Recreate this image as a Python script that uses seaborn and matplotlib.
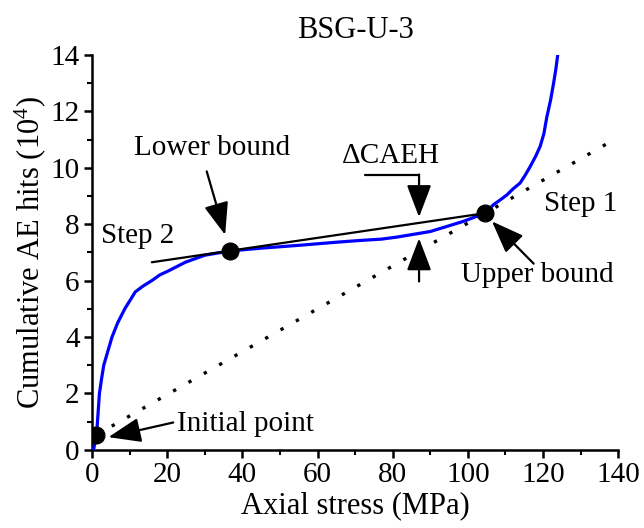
import matplotlib
matplotlib.use("Agg")
import matplotlib.pyplot as plt
import seaborn as sns
import pandas as pd
import numpy as np

# Cumulative AE hits (x 10^4) against axial stress (MPa) for specimen BSG-U-3
stress = [0.4, 0.8, 1.2, 1.95, 2.5, 3.1, 4.2, 5.3, 6.8, 8.7, 11.5, 13.5,
          15.9, 18.0, 20.4, 24.8, 30.0, 36.7, 45.0, 55.0, 65.0, 71.0, 77.0,
          81.0, 90.0, 98.8, 104.6, 106.8, 108.5, 110.4, 112.0, 113.9, 115.3,
          116.6, 118.0, 119.2, 120.2, 121.0, 122.0, 122.8, 123.4, 123.9]
hits = [0.0, 0.3, 0.55, 2.0, 2.5, 3.0, 3.5, 4.0, 4.5, 5.0, 5.6, 5.8,
        6.0, 6.2, 6.35, 6.65, 6.9, 7.05, 7.15, 7.25, 7.36, 7.42, 7.47,
        7.54, 7.74, 8.1, 8.39, 8.69, 8.85, 9.04, 9.25, 9.46, 9.75,
        10.05, 10.4, 10.75, 11.2, 11.8, 12.4, 13.0, 13.5, 14.0]

# Characteristic points: initial point, lower bound, upper bound
key_stress = [1.15, 36.7, 104.6]
key_hits = [0.53, 7.05, 8.39]

# Step 2 tangent line (start -> upper bound) and Step 1 secant end
tangent_stress = [15.9, 104.6]
tangent_hits = [6.65, 8.39]
secant_end_stress = 137.0

x_ticks = [0, 20, 40, 60, 80, 100, 120, 140]
y_ticks = [0, 2, 4, 6, 8, 10, 12, 14]

sns.set_theme(style="ticks")
plt.rcParams["font.family"] = ["Liberation Serif", "DejaVu Serif"]
plt.rcParams["mathtext.fontset"] = "custom"
plt.rcParams["mathtext.rm"] = "Liberation Serif"
plt.rcParams["mathtext.it"] = "Liberation Serif:italic"
plt.rcParams["text.color"] = "black"
plt.rcParams["axes.labelcolor"] = "black"

fig = plt.figure(figsize=(6.44, 5.28), dpi=100)
ax = fig.add_axes([0.143, 0.148, 0.817, 0.748])

df = pd.DataFrame({"stress": stress, "hits": hits})
sns.lineplot(data=df, x="stress", y="hits", sort=False, estimator=None,
             color="#0000ff", lw=2.3, ax=ax, zorder=3)

# Step 1 secant through the initial point and the upper bound
slope = (key_hits[2] - key_hits[0]) / (key_stress[2] - key_stress[0])
sx = [key_stress[0], secant_end_stress]
sy = [key_hits[0], key_hits[0] + slope * (secant_end_stress - key_stress[0])]
ax.plot(sx, sy, color="black", lw=2.4, linestyle=(0, (1, 4.3)), zorder=2)

# Step 2 tangent
ax.plot(tangent_stress, tangent_hits, color="black", lw=1.6, zorder=4)

# Key points
ax.plot(key_stress, key_hits, "o", color="black", ms=12, zorder=5)

ax.set_xlim(0, 140)
ax.set_ylim(0, 14)
ax.set_xticks(x_ticks)
ax.set_yticks(y_ticks)
ax.set_xticks(np.arange(0, 141, 10), minor=True)
ax.set_yticks(np.arange(0, 15, 1), minor=True)
for s in ["top", "right"]:
    ax.spines[s].set_visible(False)
for s in ["left", "bottom"]:
    ax.spines[s].set_linewidth(1.8)
    ax.spines[s].set_color("black")
ax.tick_params(which="major", direction="out", length=6, width=1.8,
               labelsize=21, colors="black", pad=3)
ax.tick_params(which="minor", direction="out", length=3.5, width=1.5,
               colors="black")

ax.set_xlabel("Axial stress (MPa)", fontsize=22, labelpad=2, color="black")
ax.set_ylabel("Cumulative AE hits (10$^4$)", fontsize=22, labelpad=2,
              color="black")
ax.set_title("BSG-U-3", fontsize=22, pad=12, color="black")

arrow = dict(arrowstyle="-|>,head_length=1.0,head_width=0.38",
             color="black", lw=1.6, shrinkA=0, shrinkB=0, mutation_scale=20)
fs = 21

ax.text(32.0, 10.7, "Lower bound", fontsize=fs, ha="center", va="center")
ax.annotate("", xy=(35.4, 7.62), xytext=(30.5, 9.87), arrowprops=arrow)

ax.text(12.2, 7.59, "Step 2", fontsize=fs, ha="center", va="center")
ax.text(130.0, 8.72, "Step 1", fontsize=fs, ha="center", va="center")

ax.text(118.5, 6.2, "Upper bound", fontsize=fs, ha="center", va="center")
ax.annotate("", xy=(106.4, 8.1), xytext=(117.5, 6.6), arrowprops=arrow)

ax.text(22.5, 0.92, "Initial point", fontsize=fs, ha="left", va="center")
ax.annotate("", xy=(4.35, 0.45), xytext=(21.6, 0.97), arrowprops=arrow)

ax.text(79.6, 10.4, "ΔCAEH", fontsize=fs, ha="center", va="center")
ax.plot([72.7, 87.0], [9.75, 9.75], color="black", lw=1.6)
ax.annotate("", xy=(87.0, 8.25), xytext=(87.0, 9.76), arrowprops=arrow)
ax.annotate("", xy=(87.0, 7.5), xytext=(87.0, 5.97), arrowprops=arrow)

fig.savefig("out.png", dpi=100)
